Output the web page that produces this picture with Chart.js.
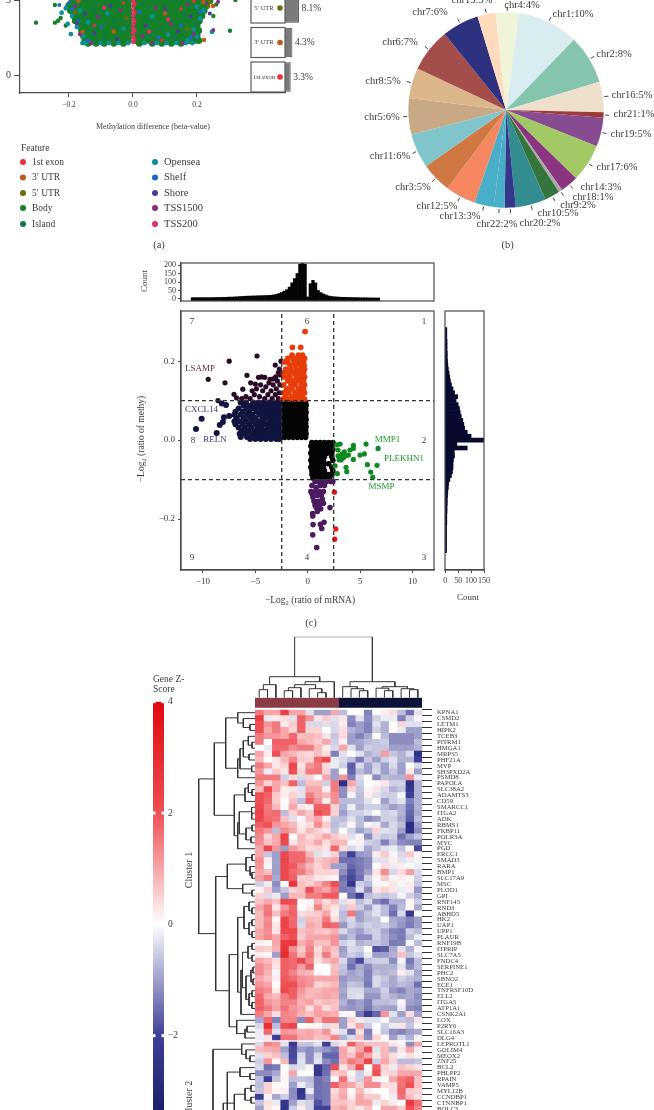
<!DOCTYPE html>
<html>
<head>
<meta charset="utf-8">
<style>
  html, body { margin: 0; background: #fff; }
  #stage { position: relative; width: 654px; height: 1110px; overflow: hidden; }
  #stage canvas { position: absolute; left: -20px; top: -20px; }
</style>
<script src="https://cdn.jsdelivr.net/npm/chart.js@4"></script>
</head>
<body>
<div id="stage"></div>
<script>
// (a) methylation volcano
const featureNames = ['1st exon', '3′ UTR', '5′ UTR', 'Body', 'Island', 'Opensea', 'Shelf', 'Shore', 'TSS1500', 'TSS200'];
const featureColors = ['#e8303a', '#bd5a1a', '#6b6b10', '#14802a', '#0f7a45', '#0c8f96', '#1a68c8', '#4a3a9a', '#8a2d80', '#e0306a'];
const utrNames = ['5′ UTR', '3′ UTR', '1st exon'];
const utrPercent = [8.1, 4.3, 3.3];
const utrColors = ['#6b6b10', '#bd5a1a', '#e8303a'];
const volcanoXTicks = [-0.2, 0, 0.2];
const volcanoYTicks = [0, 5];

// each row is [y, x, x, x ...]
const bodyRows = [
  [4.95, -.19, -.175, -.16, -.145, -.13, -.115, -.1, -.085, -.07, -.055, -.04, -.025, -.012, .012, .027, .042, .057, .072, .087, .102, .117, .132, .147, .162, .177, .192, .207, .222, .24],
  [4.62, -.2, -.185, -.168, -.152, -.137, -.122, -.107, -.092, -.077, -.062, -.047, -.032, -.015, .008, .021, .036, .05, .066, .08, .095, .11, .125, .14, .155, .17, .185, .2, .215, .23],
  [4.3, -.195, -.178, -.163, -.147, -.132, -.117, -.102, -.087, -.072, -.057, -.042, -.027, -.012, .013, .028, .043, .058, .073, .088, .103, .118, .133, .148, .163, .178, .193, .208, .222],
  [3.95, -.185, -.17, -.155, -.14, -.125, -.11, -.095, -.08, -.065, -.05, -.035, -.02, -.008, .008, .022, .037, .052, .067, .082, .097, .112, .127, .142, .157, .172, .187, .202, .215],
  [3.62, -.18, -.165, -.15, -.133, -.118, -.103, -.088, -.073, -.058, -.043, -.028, -.013, .012, .027, .042, .057, .072, .087, .102, .117, .132, .147, .162, .177, .192, .207],
  [3.3, -.165, -.15, -.137, -.122, -.107, -.092, -.077, -.062, -.047, -.032, -.017, -.006, .008, .022, .037, .052, .067, .082, .097, .112, .127, .142, .157, .172, .187, .2],
  [2.96, -.16, -.145, -.13, -.115, -.1, -.085, -.07, -.055, -.04, -.025, -.012, .012, .027, .042, .057, .072, .087, .102, .117, .132, .147, .162, .177, .192, .205],
  [2.63, -.155, -.14, -.125, -.11, -.095, -.08, -.065, -.05, -.035, -.02, -.007, .008, .022, .037, .052, .067, .082, .097, .112, .127, .142, .157, .172, .187, .2],
  [2.3, -.15, -.135, -.12, -.105, -.09, -.075, -.06, -.045, -.03, -.015, .01, .025, .04, .055, .07, .085, .1, .115, .13, .145, .16, .175, .19, .205],
  [2.13, -.14, -.115, -.09, -.06, -.03, .02, .06, .09, .12, .15]
];
const islandPts = [[-.12, 4.4], [-.06, 3.6], [.03, 4.7], [.09, 3.1], [.16, 4], [-.15, 2.9], [.2, 3.4], [-.09, 2.5], [.13, 2.4], [.05, 2.8]];
const openseaPts = [[-.158, 2.13], [-.15, 2.13], [-.13, 2.13], [-.1, 2.13], [-.075, 2.13], [-.045, 2.13], [-.015, 2.13], [.035, 2.13], [.075, 2.13], [.105, 2.13], [.135, 2.13], [.165, 2.13], [.185, 2.13], [-.194, 2.73], [-.204, 3.4], [-.223, 4.15], [-.21, 4.45], [-.19, 3.95], [-.175, 3.2], [-.155, 2.6], [-.14, 3.5], [-.165, 4.3], [.19, 3.05], [.2, 2.55], [.21, 3.75], [.22, 4.3], [.247, 2.87], [.2, 4.55], [.17, 2.3], [-.08, 4.1], [-.03, 3.1], [.06, 3.9], [.11, 2.7]];
const shelfPts = [[-.23, 4.67], [-.2, 4.8], [-.17, 3.6], [.18, 2.5], [-.19, 4.4], [-.14, 2.3], [.21, 4.2], [.15, 3.3], [-.1, 3.2], [.02, 4.2], [.08, 2.5]];
const shorePts = [[-.176, 3.45], [-.15, 4.1], [-.12, 2.8], [-.07, 4.6], [-.05, 2.4], [.04, 3.3], [.1, 4.4], [.14, 2.9], [.18, 3.9], [.23, 4.75], [.24, 4.1]];
const tss1500Pts = [[-.166, 2.71], [-.18, 4.6], [-.11, 3.9], [-.04, 4.3], [.03, 2.6], [.07, 4.5], [.12, 3.4], [.17, 4.7], [.19, 2.7], [.251, 3], [.266, 4.89], [-.13, 2.13], [.06, 2.13], [.155, 2.13]];
const tss200Pts = [[.001, 4.9], [.001, 4.6], [.001, 4.3], [.001, 4], [.001, 3.7], [.001, 3.4], [.001, 3.1], [.001, 2.8], [.001, 2.5], [.001, 2.2], [-.09, 4.5], [.11, 3.7], [.05, 2.9]];
const exonPts = [[.006, 4.75], [.006, 4.15], [.006, 3.55], [.006, 2.95], [.006, 2.35], [-.12, 3.3], [-.03, 4.8], [.09, 2.3], [.15, 4.4], [.19, 4.9]];
const utr3Pts = [[-.157, 2.89], [.25, 4.6], [.222, 2.33], [.22, 4.85], [-.17, 4.95], [.1, 4.1], [-.06, 2.9]];
const utr5Pts = [[.235, 4.6], [-.18, 4.2], [.17, 3.1], [-.02, 3.8], [.24, 4.9]];
const bodyOutliers = [[-.303, 3.49], [.303, 2.95], [.32, 5], [-.244, 3.49], [-.234, 3.62], [-.226, 3.8], [-.244, 4.67], [.251, 3.93], [.26, 4.7], [-.21, 3.3]];

// (b) chromosome pie
const chrNames = ['chr1:10%', 'chr2:8%', 'chr16:5%', 'chr21:1%', 'chr19:5%', 'chr17:6%', 'chr14:3%', 'chr18:1%', 'chr9:2%', 'chr10:5%', 'chr20:2%', 'chr22:2%', 'chr13:3%', 'chr12:5%', 'chr3:5%', 'chr11:6%', 'chr5:6%', 'chr8:5%', 'chr6:7%', 'chr7:6%', 'chr15:3%', 'chr4:4%'];
const chrValues = [10.1, 8.1, 5, 0.9, 4.8, 6.2, 3, 0.6, 2.5, 5, 1.8, 1.8, 3.2, 5, 5, 5.7, 6, 5, 7.2, 6.1, 3, 3.8];
const chrColors = ['#d9ecef', '#85c5ad', '#efdfcd', '#a03a38', '#864c8f', '#a3c966', '#8b3580', '#aaaaaa', '#35743a', '#328c90', '#35378a', '#49afc9', '#49afc9', '#f58860', '#cf7843', '#80c5cc', '#c9a885', '#dbb68a', '#a34e4b', '#2e3180', '#ffdbbd', '#f0f4d8'];
const chrLabelSpots = [[573, 14], [614, 54], [632, 95], [634, 114], [631, 134], [617, 167], [601, 187], [593, 197], [578, 205], [558, 213], [540, 223], [497, 224], [460, 216], [437, 206], [413, 187], [390, 156], [382, 117], [383, 81], [400, 42], [430, 12], [472, 0], [522, 5]];

// (c) mRNA against methylation
const nineTicksX = [-10, -5, 0, 5, 10];
const nineTicksY = [-0.2, 0, 0.2];
const cutsX = [-2.48, 2.48];
const cutsY = [-0.1, 0.1];
const blackUpperRows = [
  [.1, -2.3, -1.9, -1.2, -.9, -.4],
  [.095, -2.5, -2.1, -1.7, -1.4, -1, -.6, -.2],
  [.088, -2.4, -2, -1.6, -1.2, -.8, -.4, -.15],
  [.079, -2.55, -2.2, -1.8, -1.4, -1, -.6, -.2],
  [.07, -2.4, -2, -1.6, -1.2, -.8, -.4, -.15],
  [.061, -2.55, -2.2, -1.8, -1.4, -1, -.6, -.2],
  [.052, -2.4, -2, -1.6, -1.2, -.8, -.4, -.15],
  [.043, -2.55, -2.2, -1.8, -1.4, -1, -.6, -.2],
  [.034, -2.4, -2, -1.6, -1.2, -.8, -.4, -.15],
  [.025, -2.55, -2.2, -1.8, -1.4, -1, -.6, -.2],
  [.016, -2.4, -2, -1.6, -1.2, -.8, -.4, -.15],
  [.007, -2.55, -2.2, -1.8, -1.4, -1, -.6, -.2]
];
const blackLowerRows = [
  [-.006, .4, .8, 1.2, 1.6, 2, 2.4],
  [-.015, .3, .7, 1.1, 1.5, 1.9, 2.3],
  [-.024, .4, .8, 1.2, 1.6, 2, 2.4],
  [-.033, .3, .7, 1.1, 1.5, 1.85, 2.3],
  [-.042, .4, .8, 1.2, 1.6, 2.3],
  [-.051, .3, .7, 1.1, 1.5, 2.4],
  [-.06, .4, .8, 1.2, 1.6, 2],
  [-.069, .3, .7, 1.1, 1.5, 2.3],
  [-.078, .4, .8, 1.2, 1.6, 2.4],
  [-.087, .4, .8, 1.2, 1.6, 2, 2.3],
  [-.096, .5, .9, 1.3, 1.7, 2.1]
];
const orangeRows = [
  [.275, -.25],
  [.235, -1.46, -.67],
  [.215, -1.5, -.9, -.5],
  [.207, -1.9, -1.4, -1, -.55, -.3],
  [.198, -2.2, -1.9, -1.3, -.8, -.4],
  [.19, -1.7, -1.2, -.7, -.35],
  [.18, -2.1, -1.6, -1.1, -.6, -.3],
  [.17, -2.3, -1.8, -1.3, -.9, -.4],
  [.16, -2.2, -1.7, -1.1, -.6, -.3],
  [.15, -1.9, -1.4, -.9, -.4],
  [.14, -2.3, -1.6, -1.2, -.6, -.3],
  [.13, -2, -1.5, -.9, -.4],
  [.12, -2.3, -1.8, -1.2, -.7, -.3],
  [.11, -2.1, -1.5, -1, -.5],
  [.104, -2.4, -1.8, -1.3, -.8, -.3]
];
const navyRows = [
  [.095, -6.4, -5.9, -5.2, -4.7, -4.2, -3.7, -3.2, -2.8],
  [.087, -6.1, -5.5, -5, -4.5, -4, -3.5, -3, -2.7],
  [.08, -6.6, -5.8, -5.2, -4.8, -4.3, -3.8, -3.3, -2.9],
  [.072, -6.9, -6.2, -5.6, -4.9, -4.4, -4, -3.5, -3.1, -2.7],
  [.064, -7, -6.4, -5.8, -5.3, -4.6, -4.1, -3.6, -3.2, -2.8],
  [.056, -6.8, -6.1, -5.5, -5, -4.3, -3.8, -3.4, -3, -2.7],
  [.048, -7, -6.5, -5.9, -5.3, -4.7, -4.2, -3.6, -3.2, -2.8],
  [.04, -6.9, -6.2, -5.6, -5, -4.5, -4, -3.5, -3, -2.7],
  [.032, -6.6, -6, -5.4, -4.8, -4.4, -3.8, -3.3, -2.9],
  [.024, -6.3, -5.7, -5.1, -4.6, -4.1, -3.6, -3.1, -2.7],
  [.016, -6.5, -6, -5.4, -4.9, -4.4, -3.9, -3.4, -2.9],
  [.008, -6.4, -5.8, -5.2, -4.7, -4.2, -3.7, -3.2, -2.8],
  [.003, -5.5, -5, -4.5, -4, -3.5, -3, -2.7],
  [.093, -8.2], [.089, -7.8], [.061, -7.5], [.058, -8], [.054, -10.13], [.046, -8.1], [.038, -8.4], [.028, -10.67], [.018, -8.69]
];
const maroonPts = [[-9.5, .154], [-7.5, .2], [-7.9, .145], [-4.84, .213], [-8.57, .1], [-7.04, .116], [-6.8, .107], [-6.2, .129], [-5.8, .164], [-5.45, .145], [-5, .142], [-3.1, .19], [-2.55, .2], [-4.7, .159], [-4.4, .16], [-4.1, .159], [-3.6, .154], [-3.05, .16], [-2.8, .171], [-6.3, .105], [-5.9, .11], [-5.5, .105], [-5.1, .115], [-5.3, .125], [-4.9, .13], [-4.6, .11], [-4.3, .125], [-4.5, .14], [-4.1, .105], [-4, .135], [-3.8, .115], [-3.7, .145], [-3.4, .105], [-3.5, .125], [-3.3, .14], [-3.1, .115], [-3, .13], [-2.9, .15], [-2.8, .105], [-2.7, .12], [-2.65, .14], [-2.6, .165], [-2.7, .18], [-3.3, .155]];
const greenPts = [[3.09, -.01], [2.77, -.012], [4.36, -.013], [4.36, -.021], [5.57, -.01], [6.72, -.021], [4.04, -.025], [3.89, -.038], [5, -.038], [5.41, -.035], [4.36, -.049], [5.7, -.062], [6.62, -.064], [3.66, -.069], [3.73, -.08], [6.02, -.081], [6.21, -.094], [2.83, -.085], [2.61, -.065], [3.1, -.04], [3.3, -.035], [3.5, -.03], [3.2, -.05], [3.4, -.045], [3, -.05], [3.6, -.04], [2.9, -.04], [2.9, -.025]];
const purplePts = [[.86, -.272], [.48, -.24], [.51, -.214], [1.21, -.213], [1.56, -.208], [1.34, -.224], [2.13, -.171], [1.24, -.174], [.92, -.181], [.48, -.186], [.48, -.192], [.4, -.135], [.7, -.105], [1, -.105], [1.4, -.105], [1.8, -.105], [2.2, -.105], [.4, -.115], [.8, -.12], [1.2, -.115], [1.6, -.115], [2.4, -.105], [.3, -.13], [.7, -.13], [1.1, -.13], [1.5, -.13], [.5, -.145], [.9, -.14], [1.3, -.14], [.6, -.155], [1, -.155], [1.4, -.15], [.7, -.165], [1.1, -.165], [1.5, -.16], [.8, -.17]];
const redPts = [[2.55, -.132], [2.68, -.225], [2.58, -.251]];

const mrnaBinStart = -11, mrnaBinWidth = 0.25;
const mrnaCounts = [8, 8, 8, 8, 8, 8, 8, 8, 8, 9, 9, 9, 10, 10, 11, 11, 12, 13, 14, 15, 16, 17, 17, 18, 18, 19, 19, 20, 20, 21, 22, 24, 27, 32, 38, 46, 55, 70, 95, 120, 150, 205, 212, 205, 12, 90, 110, 95, 50, 38, 30, 24, 18, 15, 13, 12, 11, 10, 10, 9, 9, 8, 8, 8, 7, 7, 7, 7, 6, 6, 6, 6];
const mrnaCountTicks = [0, 50, 100, 150, 200];
const methyBinStart = 0.28, methyBinWidth = 0.01;
const methyCounts = [6, 6, 6, 7, 7, 7, 8, 8, 9, 10, 12, 15, 17, 20, 24, 30, 36, 48, 42, 50, 55, 58, 62, 68, 72, 75, 85, 100, 155, 45, 85, 35, 36, 32, 30, 30, 28, 24, 18, 13, 12, 10, 9, 8, 8, 7, 7, 6, 6, 6, 5, 5, 5, 5, 5, 5, 5];
const methyCountTicks = [0, 50, 100, 150];

// (d) heatmap
const genes = ['KPNA1', 'CSMD2', 'LETM1', 'HIPK2', 'TCEB3', 'PITRM1', 'HMGA1', 'MRPS5', 'PHF21A', 'MVP', 'SH3PXD2A', 'PSMD8', 'PAPOLA', 'SLC38A2', 'ADAMTS3', 'CD59', 'SMARCC1', 'ITGA2', 'ADK', 'RBMS1', 'FKBP11', 'POLR3A', 'MYC', 'PGD', 'ERCC1', 'SMAD3', 'RARA', 'BMP1', 'SLC17A9', 'MSC', 'PLOD1', 'GPI', 'RNF145', 'RND3', 'ABHD5', 'HK2', 'UAP1', 'UPP1', 'PLAUR', 'RNF19B', 'ITPRIP', 'SLC7A5', 'FNDC4', 'SERPINE1', 'PHC2', 'SBNO2', 'ECE1', 'TNFRSF10D', 'ELL2', 'ITGA5', 'ATP1A1', 'CSNK2A1', 'LOX', 'P2RY6', 'SLC16A3', 'DLG4', 'LEPROTL1', 'GOLIM4', 'MEOX2', 'ZNF25', 'BCL2', 'PHLPP2', 'RPAIN', 'VAMP5', 'MYL12B', 'CCNDBP1', 'CTNNBP1', 'BOLC3'];
const heatRows = [
  [1.5, 1, 1, 2.5, 1, 1, -.3, -1, -1, 1, -.7, 0, 0, -1.3, 0, .2, .4, -.7, -1.5, -.3],
  [2.5, -.2, .2, .4, -.3, 1.8, 1.2, .3, .6, -.3, .3, -1.2, -.3, -1.2, -.5, -.2, -.2, -1.3, -.5, .1],
  [2, 1.2, 1.5, .2, .6, 1.8, -.4, -.4, -.3, -.4, .2, -1.3, -1, -1.3, -.3, -.8, 0, .5, -.3, -.3],
  [2, 1, 1.5, 1, .5, 1.8, .5, .5, 0, -.4, .4, -.8, -1, -1.3, -.5, -.8, .1, -.2, -1, -1],
  [1.5, 1.2, 1.2, 1, 1.7, .7, .8, .7, .3, -.6, .4, -1, -1.3, -.9, 0, -.7, -1.2, -1.2, -1.2, -1],
  [1.5, 0, 1.8, 1.8, 1.8, 1, .8, .6, 1, -.5, .2, -1, -.9, -.7, -.6, -.5, -1.2, -1.2, -1.2, -.7],
  [0, -.2, 1.7, 1.7, 1.3, 1.5, 1.5, .8, .2, -.4, 1, -.3, -1, -.5, -.6, -.6, -1, -1, -1, -.8],
  [1, .2, 2, 1, .8, .5, .4, .7, .4, -1.3, -.3, 0, -.3, -.8, -.6, 1.1, -.6, -.8, -.4, -2.5],
  [.8, 0, .3, .8, 1.4, .6, .5, 1.7, 2.2, -.2, -.4, -.7, -1.4, -.6, -1, -.5, -.3, -.8, -.8, -2],
  [1.5, 1, .3, .5, 2.2, .3, 1.2, 1.5, .4, -.2, -.5, -1.7, -.4, -1, -.5, -1, -.4, -1, 0, -.4],
  [1.2, -.2, .6, .3, 2, .5, 1.5, 1.6, .5, -1, 0, -1.6, -.7, -1, -.4, -1, -.6, -1, .3, -1],
  [1.5, 1.5, 1.5, -.5, .4, -.4, .5, 0, 1, -1, 1.2, -1.3, -.4, 0, -1.2, -.7, -.8, -.8, 1.2, -.2],
  [1.2, .5, 1, .7, 1.8, -.7, .7, .7, -.5, 1.5, -2.6, 1, -.5, 0, .1, .3, -.5, -.5, -2.5, -.8],
  [.8, 2.2, 1, .2, .3, -.3, 1, 1, .2, 1.5, -1.2, .5, -.6, -.1, .3, -.4, -.8, -.6, -2.3, -.8],
  [2, 1.8, .6, .2, .5, -.3, 1.5, 1, .8, 1.3, -1.2, -.1, -.7, .2, -.3, -.5, -.5, -.1, -2, -.8],
  [2, 1.7, .6, 0, .7, -.7, 1.8, 1.2, .2, 1.3, -.7, -.7, -.7, -.3, .1, -1, -.5, -.3, -1.3, -.8],
  [2.2, 1.5, .8, .1, 1, .3, .2, 1.8, 1.8, .5, -.8, -.2, -.8, -.5, -.5, -.7, -1, -.8, -1.5, -.8],
  [2.3, 1.6, 1.7, -.7, .5, 1, .6, 2, 1.8, .5, -1, -.5, -.5, -.3, 0, -.5, -.4, -.8, -1.6, -.9],
  [2.2, 1.7, 1.6, .7, -.3, -.1, .7, 1, .2, -.6, -.7, -.3, -.7, -1.2, -1, -.5, -.5, -.9, -1.7, -.7],
  [1.8, 2, 1.2, 1, .8, .2, .4, 1.3, .6, -.7, -.5, .1, -.7, -.1, -.2, -.9, -.4, -.7, -2.7, -1],
  [1.5, 1.2, -.7, 1.3, 1, .3, .8, .5, .3, -.6, 0, -.5, -1, -.7, .5, -.3, -.4, -1, -2.6, -1.2],
  [1.4, .5, 1, 2.3, 0, .8, .4, .6, 1, .6, .4, -.3, -.1, -1.2, -.4, -.6, -.5, -1.5, -1, -.6],
  [1.3, .7, 1, 2.2, .3, .7, .6, 1, .4, .8, .8, -.1, .2, -.5, -.6, -1.3, -.7, -1.2, -1.3, -1.3],
  [1, 2.3, 1.2, -1, 1.2, .8, .4, .5, .3, 1.7, .4, -.4, -.2, -.9, -.6, -.3, -.2, -.6, 0, -1.9],
  [1, -.6, -1, 2.2, 1.7, 1.7, .8, -.3, -.2, .5, -1.2, -2, -1.1, -1, .2, .6, .1, -.4, .6, .1],
  [1.3, .2, -1, 2.3, 1.7, 1.7, 1.2, .6, .8, 1, -1.5, -1.5, -1.4, -1.2, -.3, -.3, .2, -.3, -.2, -.1],
  [1.2, -.1, -1, 2.2, 1.9, 1.3, .8, .5, .8, -1, -1, -1.6, -1.4, -1.2, 0, .4, -.2, .2, 0, -.2],
  [1, .7, -1, 2.2, 1.7, 1.5, 1, .5, .5, .5, -1.2, -1.8, -1.4, -1, .3, 1.3, -.4, .4, 1.1, -.4],
  [1.1, 1.5, -.9, 2.2, 1.8, .5, .6, .3, .2, .1, -1.5, -1.9, -1.5, -.5, .1, .6, -.1, .2, .1, -.5],
  [-.5, -.2, -1.2, 0, 2.7, .7, .5, .9, 1.4, 2, -1.3, -2.4, -.5, -.7, -.1, .1, .3, -.1, .2, -.6],
  [.1, .6, -1, -.6, .5, .7, 2, 1.3, 1, 1.6, -1.4, -1.3, -.3, -1.2, .3, .5, .3, -.2, .2, -1.1],
  [.5, -.4, -.2, -1, .8, .8, 1.5, 1.5, 1.9, 1.9, 0, -1.5, -2.1, -.7, -.5, -.6, -.5, -.1, -.5, -.8],
  [.7, 1, .7, 2.2, 2, .1, -.1, .9, .4, .8, -.3, .3, -.7, -.4, -1.2, -1.5, -.8, -.8, .1, -.5],
  [1, 1.5, .3, 1.2, 1.7, 0, .2, 1.4, .6, .3, -.5, .6, -.5, -1, -.3, -.7, -1.3, -.7, .1, -.9],
  [.8, 1.6, .7, 1.5, 1.8, .4, .5, .6, 1, .2, -.7, 1.5, -1, -.6, -.3, -.7, -1.5, -.4, -2.2, 0],
  [.8, 1.3, .1, 2.3, 1.7, -.5, .8, .7, 1.5, .4, -.7, -.4, -1, -.7, -.6, 0, -.9, -1, -1.3, -1],
  [.8, 1.4, .3, 2.4, 1.7, -.4, 1, .8, 1.8, 1.7, -1.1, -.5, -.7, -.5, -.6, -.5, -.8, -1.1, -1.4, -1],
  [1, 1.3, .3, 2.2, 2.2, .7, .9, .7, .6, .9, -.4, -.8, -1, -.6, -.5, -.9, -1.3, -1.4, -.5, -.7],
  [1, 1.4, 1, 1.8, 2, .6, 1, 1, 1, 1.2, -1, -.7, -1.2, -1.2, -.5, -.8, -1.2, -1.4, -.7, -.2],
  [.2, .1, 1, 2.6, 2.7, .9, 1.2, .7, .7, 1.2, -.5, -.3, -.8, -.7, -.6, -.8, -1.4, -1.3, -.1, -.7],
  [.6, .5, .9, 2.8, 1.3, .6, 1.4, .4, 1, .7, -1, -.4, -.5, 0, -1.8, -1.7, -.9, -.3, -.8, -.1],
  [.2, .1, -1, 3, 1.6, .8, 1.6, .5, 1.5, .6, -.9, -.5, -.7, -.2, -1, -1, -.8, .7, -.6, -.3],
  [1, .8, .4, 1.8, 1.7, 2.2, 1.4, .3, .8, 1, -.4, -1.3, -1.9, -.6, -.5, -.5, -1.2, -.1, -1.4, -.7],
  [1.3, 1, .3, 1.8, 1.7, 1.1, 1.8, 0, 0, .7, -.6, -1.5, -.9, -1.2, -.8, -.8, -.8, -.3, -1.2, -.7],
  [1.3, .9, -.1, 1.8, 1.4, .9, .8, .1, 0, .8, -.7, -1, -.8, -1.3, -.7, -.8, -.7, .2, -.3, -.9],
  [1, .7, .2, 1.9, 1.7, 1.3, 1.2, 1, 1, 1, -1.1, -.9, -.9, -1.3, -.4, -.6, -.9, -.5, -.7, -.8],
  [1.2, 1, 0, 2, 2, 1.4, 1.2, .5, .6, .8, -1, -.6, -.7, -1.4, -.4, -.7, -.9, -.7, -.8, -1.5],
  [1.5, 1.3, .2, 2.2, 1.8, 1.2, .8, .8, 1, 1, -.9, -.4, -.4, -.9, -.9, -.5, -1.1, -1.3, -.9, -1],
  [1.7, 1, .8, 1.5, 1.8, 1, .8, .9, 1, .9, -1, -.4, -.3, -1.1, -1.1, -.6, -.8, -1, -.9, -1.2],
  [1.8, 1.2, 1, 1.4, 1.4, .9, 1.1, .6, .8, .7, -.8, -1.2, -1, -1.3, -.7, -.7, -.6, .1, -1, -1.1],
  [1.8, 1.5, 1.1, 1.6, 1.2, 1, .4, 1, .4, .7, -1, -1.1, -1, -1.4, -.9, -1, -1, -.2, -1.2, -1.3],
  [1.5, 1, .4, 1.4, 1.3, .9, .7, 1.1, 1, .9, .1, .1, -1.4, -2.2, -1.6, 1.2, -.3, -1, .4, -1],
  [-.9, 1.7, -1.3, 1.4, 1.4, -1.2, 1.8, .8, 1.6, 1.6, -1, .5, -.2, -.3, -.3, .1, -.6, -.6, -.7, .3],
  [-.4, 2.9, -.7, 2, 2.3, 0, .1, .1, -.3, .4, -1, .3, 1, -.5, 0, -.5, -.2, .3, -.6, .1],
  [-.2, 1.7, -.3, 1.2, 1.1, .9, 1, .8, 1.2, .3, -.3, -1.5, .4, -1.3, .1, -.6, -1.2, -1.3, -1, -.9],
  [-.2, .3, -2, 1.6, 1.6, 1, 1, .7, .8, 1.4, -.8, -.4, .7, -1.2, .5, .1, -1, -.4, -.8, -.1],
  [-.4, 1.4, 1.2, -.3, -2.2, -.6, -.6, -.3, -2, -.4, .3, 1.8, 1, .7, .7, .7, .3, -.1, -1.2, 1],
  [.8, .9, 1, -1, -1.9, -1, -1.2, -.9, -1.1, -1.4, 1, .4, 1, 2, -.3, .8, -.8, .3, 1, .2],
  [-.3, .5, .7, -.7, -1.9, -.4, -1.2, -.4, -1.6, -1.6, 1, .7, 1.5, 1, .3, .8, .4, -.1, .4, -.1],
  [-.5, 1.2, .1, .8, -1.8, -.3, -1.2, -.3, -1.2, -1.5, .9, 1.5, 1.2, 2.4, -.5, 1, .5, -.7, -.7, -.6],
  [-.4, -1.5, -1.4, 0, -.4, -.3, -.1, -2.2, -1.6, 2, .3, .9, 2, 0, 1.8, .5, -.2, .7, .5, .3],
  [-1.2, -1.2, -.9, .1, 1, 0, 0, -2.3, -1.5, .6, .7, -.1, -.5, .2, 2, .4, .5, 1, 1, 1],
  [-.6, -2.1, -.6, .1, -.7, -.6, -.7, -1.5, -1.3, .1, 1.6, .3, -.5, 1.2, .2, 0, 1, 1.6, 1.8, .7],
  [-.7, .5, .1, .1, -1, -.2, -.6, -1.5, -1.4, 1.8, 1.2, 1, .5, 1.3, 1.3, .4, .4, 1.6, 2, .7],
  [-.6, .5, .1, .2, -1.2, -2.5, -.2, -1.5, -1.4, .4, .9, .1, .8, .2, 0, 0, .4, 1.7, .6, .5],
  [-2, -.1, -.9, -.5, -1.2, -2.3, -.9, -1.5, -1.4, .6, 1, .2, 1, .6, .6, 0, -.2, 1.6, .7, .4],
  [-.6, .4, -.2, -2.3, -1, -.3, -.5, -1.8, -1.4, .7, .7, .5, 1, 1, -.2, .5, .2, 0, 2.6, 1.6],
  [-1, .3, .1, -2.5, -.5, .2, -.5, -2, -2, .8, 1, .5, .3, .7, 0, 1, 1, .6, 2, 1.4]
];
const groupSizes = [10, 10];
const groupColors = ['#8a3c46', '#0c1238'];
const zTicks = [-2, 0, 2, 4];
const zStops = [[-3.5, '#161a66'], [-2, '#3f3f97'], [0, '#ffffff'], [2, '#ee4f55'], [4, '#e0080f']];

// dendrogram merges: [from, to, height, height of from, height of to]
const columnTree = [
  [0, 1, 8, 0, 0], [.5, 2, 13, 8, 0], [3, 4, 7, 0, 0], [3.5, 5, 10, 7, 0], [7, 8, 5, 0, 0], [6, 7.5, 9, 0, 5], [4.25, 6.75, 13, 10, 9], [5.5, 9, 16, 13, 0], [1.25, 7.25, 21, 13, 16],
  [12, 13, 7, 0, 0], [11, 12.5, 9, 0, 7], [10, 11.75, 11, 0, 9], [15, 16, 7, 0, 0], [14, 15.5, 9.5, 0, 7], [18, 19, 8, 0, 0], [17, 18.5, 9, 0, 8], [14.75, 17.75, 11, 9.5, 9], [10.875, 16.25, 16, 11, 11],
  [4.25, 13.56, 61, 21, 16]
];
const rowTree = [
  [2, 3, 5, 0, 0], [1, 2.5, 11.7, 0, 5], [0, 1.75, 17.3, 0, 11.7],
  [5, 6, 3, 0, 0], [4, 5.5, 6.7, 0, 3], [7, 8, 6, 0, 0], [4.75, 7.5, 11.7, 6.7, 6], [9, 10, 3.3, 0, 0], [6.1, 9.5, 15, 11.7, 3.3], [7.8, 11, 17.3, 15, 0],
  [.875, 9.4, 29.3, 17.3, 17.3],
  [13, 14, 3, 0, 0], [12, 13.5, 6.7, 0, 3], [12.75, 15, 10, 6.7, 0],
  [17, 18, 3.3, 0, 0], [16, 17.5, 3.5, 0, 3.3], [19, 20, 3, 0, 0], [21, 22, 4, 0, 0], [19.5, 21.5, 9, 3, 4], [16.75, 20.5, 15.7, 3.5, 9], [18.6, 23, 17.3, 15.7, 0],
  [13.9, 20.8, 20.7, 10, 17.3], [5.1, 17.35, 40.7, 29.3, 20.7],
  [24, 25, 3, 0, 0], [27, 28, 3, 0, 0], [26, 27.5, 5, 0, 3], [24.5, 26.75, 9, 3, 5], [30, 31, 3, 0, 0], [29, 30.5, 12.3, 0, 3], [25.6, 29.75, 27.7, 9, 12.3],
  [33, 34, 3, 0, 0], [32, 33.5, 6, 0, 3], [35, 36, 3, 0, 0], [37, 38, 3, 0, 0], [35.5, 37.5, 6, 3, 3], [32.75, 36.5, 11, 6, 6],
  [39, 40, 3, 0, 0], [41, 42, 3, 0, 0], [39.5, 41.5, 7, 3, 3], [43, 44, 2, 0, 0], [45, 46, 2, 0, 0], [43.5, 45.5, 4, 2, 2], [47, 48, 3, 0, 0], [49, 50, 3, 0, 0], [47.5, 49.5, 6, 3, 3], [44.5, 48.5, 9, 4, 6], [40.5, 46.5, 12.5, 7, 9], [43.5, 51, 14, 12.5, 0],
  [34.6, 47.25, 17.3, 11, 14],
  [53, 54, 8, 0, 0], [53.5, 55, 10, 8, 0], [52, 54.25, 18.3, 0, 10], [40.9, 53.1, 25.7, 17.3, 18.3], [27.7, 47, 39.3, 27.7, 25.7], [11.2, 37.35, 56.3, 40.7, 39.3],
  [58, 59, 5, 0, 0], [57, 58.5, 9, 0, 5], [56, 57.75, 13.3, 0, 9],
  [61, 62, 5, 0, 0], [60, 61.5, 15, 0, 5], [63, 64, 4, 0, 0], [65, 66, 4, 0, 0], [63.5, 65.5, 10, 4, 4], [64.5, 72, 20.7, 10, 10], [60.75, 70, 27.7, 15, 20], [66, 85, 31.7, 20.7, 20], [56.9, 80, 42, 13.3, 30]
];

// ---- drawing helpers ----
const W = 694, H = 1150, OFF = 20;
const SERIF = '"Liberation Serif", serif';
const INK = '#3a3a3a', AXIS = '#4a4a4a';
Chart.defaults.animation = false;
Chart.defaults.responsive = false;
Chart.defaults.events = [];
Chart.defaults.font.family = SERIF;
Chart.defaults.color = INK;
Chart.defaults.plugins.legend.display = false;
Chart.defaults.plugins.tooltip.enabled = false;

const stage = document.getElementById('stage');
function addChart(config) {
  const c = document.createElement('canvas');
  c.width = W; c.height = H;
  stage.appendChild(c);
  return new Chart(c, config);
}
// plot area in page pixels, every canvas covers the whole page
function pad(x1, y1, x2, y2, l = 0, r = 0, b = 0) {
  return { left: x1 + OFF - l, top: y1 + OFF, right: W - x2 - OFF - r, bottom: H - y2 - OFF - b };
}
function fromRows(rows) {
  return rows.flatMap(([y, ...xs]) => xs.map(x => ({ x, y })));
}
function fromPairs(pairs) {
  return pairs.map(([x, y]) => ({ x, y }));
}
function treeLines(merges, rowsAreX) {
  const out = [];
  const add = (a, h) => out.push(rowsAreX ? { x: a, y: h } : { x: h, y: a });
  merges.forEach(([a, b, h, ha, hb]) => {
    add(a, ha); add(a, h); add(b, h); add(b, hb);
    out.push({ x: NaN, y: NaN });
  });
  return out;
}
function minus(v) { return String(v).replace('-', '−'); }
function axis(min, max, ticks, fmt, size, tick, gap, fit) {
  return {
    type: 'linear', min, max, offset: false,
    afterBuildTicks: s => { s.ticks = ticks.map(value => ({ value })); },
    afterFit: fit,
    grid: { drawOnChartArea: false, tickLength: tick, color: AXIS, tickWidth: 1, offset: false },
    border: { color: AXIS, width: 1.2 },
    ticks: { font: { size }, color: INK, padding: gap, maxRotation: 0, autoSkip: false, callback: fmt }
  };
}
function hidden(min, max, extra) {
  return Object.assign({ type: 'linear', display: false, offset: false, min, max }, extra);
}
function notes(list, framed) {
  return {
    id: 'notes',
    afterDraw(chart) {
      const ctx = chart.ctx;
      if (framed) {
        const a = chart.chartArea;
        ctx.save(); ctx.strokeStyle = AXIS; ctx.lineWidth = 1.2;
        ctx.strokeRect(a.left, a.top, a.width, a.height); ctx.restore();
      }
      list.forEach(n => {
        ctx.save();
        ctx.translate(n.x + OFF, n.y + OFF);
        if (n.dot) {
          ctx.fillStyle = n.color;
          ctx.beginPath(); ctx.arc(0, 0, n.dot, 0, Math.PI * 2); ctx.fill();
        } else {
          if (n.rot) ctx.rotate(n.rot * Math.PI / 180);
          ctx.font = (n.size || 9) + 'px ' + SERIF;
          ctx.fillStyle = n.color || INK;
          ctx.textAlign = n.align || 'center';
          ctx.textBaseline = 'middle';
          ctx.fillText(n.t, 0, 0);
        }
        ctx.restore();
      });
    }
  };
}
function dot(pts, color, r) {
  return { data: pts, backgroundColor: color, borderWidth: 0, pointRadius: r, pointHoverRadius: r, clip: false };
}
function zColor(z) {
  const rgb = h => [1, 3, 5].map(i => parseInt(h.slice(i, i + 2), 16));
  const v = Math.max(-3.5, Math.min(4, z));
  for (let i = 1; i < zStops.length; i++) {
    if (v <= zStops[i][0]) {
      const [z0, c0] = zStops[i - 1], [z1, c1] = zStops[i];
      const t = (v - z0) / (z1 - z0), a = rgb(c0), b = rgb(c1);
      return 'rgb(' + a.map((q, k) => Math.round(q + (b[k] - q) * t)).join(',') + ')';
    }
  }
  return zStops[zStops.length - 1][1];
}

// ---- (a) scatter ----
const featureNotes = [{ t: 'Feature', x: 21, y: 148, size: 9.5, align: 'left' }, { t: '(a)', x: 159, y: 245, size: 10.5 }, { t: 'Methylation difference (beta-value)', x: 153, y: 127, size: 8 }];
const legendYs = [162, 177.5, 193, 208, 224];
featureNames.forEach((t, i) => {
  const second = i > 4;
  featureNotes.push({ t, x: second ? 164 : 32, y: legendYs[i % 5], size: second ? 10.5 : 9.5, align: 'left' });
  featureNotes.push({ dot: 3, x: second ? 155 : 23, y: legendYs[i % 5], color: featureColors[i] });
});
addChart({
  type: 'scatter',
  data: {
    datasets: [
      dot(fromPairs(exonPts), featureColors[0], 1.7),
      dot(fromPairs(tss200Pts), featureColors[9], 2.2),
      dot(fromPairs(utr3Pts), featureColors[1], 2.2),
      dot(fromPairs(utr5Pts), featureColors[2], 2.2),
      dot(fromPairs(tss1500Pts), featureColors[8], 2),
      dot(fromPairs(shorePts), featureColors[7], 2),
      dot(fromPairs(shelfPts), featureColors[6], 2),
      dot(fromPairs(openseaPts), featureColors[5], 2.4),
      dot(fromPairs(islandPts), featureColors[4], 2.4),
      dot(fromPairs(bodyOutliers), featureColors[3], 2.2),
      dot(fromRows(bodyRows), featureColors[3], 3.6)
    ]
  },
  options: {
    layout: { padding: pad(20, 0, 285, 93, 20, 0, 14) },
    scales: {
      x: axis(-0.353, 0.475, volcanoXTicks, v => v.toFixed(1).replace('-', '−'), 7.5, 4, 4, s => { s.height = 14; }),
      y: axis(-1.2, 5, volcanoYTicks, minus, 10, 6, 3, s => { s.width = 20; })
    }
  },
  plugins: [notes(featureNotes)]
});

// bars and boxes to the right of the scatter
addChart({
  type: 'bar',
  data: {
    labels: utrNames,
    datasets: [{ data: utrPercent, backgroundColor: '#7a7a7a', borderColor: '#4a4a4a', borderWidth: 1, barPercentage: 1, categoryPercentage: 0.86 }]
  },
  options: {
    indexAxis: 'y',
    layout: { padding: pad(285, -9.25, 330, 94.25) },
    scales: {
      x: hidden(0, 26.16),
      y: { display: false }
    }
  },
  plugins: [{
    id: 'utrBoxes',
    afterDatasetsDraw(chart) {
      const ctx = chart.ctx;
      chart.getDatasetMeta(0).data.forEach((bar, i) => {
        const top = bar.y - 15;
        ctx.save();
        ctx.fillStyle = '#fff'; ctx.strokeStyle = '#5a5a5a'; ctx.lineWidth = 1.2;
        ctx.fillRect(251 + OFF, top, 34, 30); ctx.strokeRect(251 + OFF, top, 34, 30);
        ctx.fillStyle = utrColors[i];
        ctx.beginPath(); ctx.arc(280 + OFF, bar.y, 2.8, 0, Math.PI * 2); ctx.fill();
        ctx.fillStyle = INK; ctx.textBaseline = 'middle'; ctx.textAlign = 'center';
        ctx.font = '6.5px ' + SERIF;
        ctx.fillText(utrNames[i], 264 + OFF, bar.y);
        ctx.textAlign = 'left'; ctx.font = '9.5px ' + SERIF;
        ctx.fillText(utrPercent[i] + '%', bar.x + 2.5, bar.y);
        ctx.restore();
      });
    }
  }]
});

// ---- (b) pie ----
addChart({
  type: 'pie',
  data: { labels: chrNames, datasets: [{ data: chrValues, backgroundColor: chrColors, borderWidth: 0 }] },
  options: { rotation: 7.6, layout: { padding: pad(408.3, 12.3, 603.7, 207.7) } },
  plugins: [{
    id: 'pieLabels',
    afterDraw(chart) {
      const ctx = chart.ctx;
      ctx.save();
      ctx.strokeStyle = '#444'; ctx.lineWidth = 1;
      ctx.fillStyle = INK; ctx.font = '10.5px ' + SERIF;
      ctx.textAlign = 'center'; ctx.textBaseline = 'middle';
      chart.getDatasetMeta(0).data.forEach((arc, i) => {
        const a = (arc.startAngle + arc.endAngle) / 2, r = arc.outerRadius;
        ctx.beginPath();
        ctx.moveTo(arc.x + Math.cos(a) * (r + 1.5), arc.y + Math.sin(a) * (r + 1.5));
        ctx.lineTo(arc.x + Math.cos(a) * (r + 5.5), arc.y + Math.sin(a) * (r + 5.5));
        ctx.stroke();
        ctx.fillText(chrNames[i], chrLabelSpots[i][0] + OFF, chrLabelSpots[i][1] + OFF);
      });
      ctx.font = '10.5px ' + SERIF;
      ctx.fillText('(b)', 507.7 + OFF, 245 + OFF);
      ctx.restore();
    }
  }]
});

// ---- (c) nine quadrant scatter ----
const nineNotes = [
  { t: '7', x: 192, y: 322 }, { t: '6', x: 307, y: 322 }, { t: '1', x: 424, y: 322 },
  { t: '8', x: 193, y: 441 }, { t: '2', x: 424, y: 440.5 },
  { t: '9', x: 192, y: 558 }, { t: '4', x: 307, y: 558 }, { t: '3', x: 424, y: 558 },
  { t: 'LSAMP', x: 200, y: 369, color: '#5c2a4a' },
  { t: 'CXCL14', x: 201.5, y: 410, color: '#36366e' },
  { t: 'RELN', x: 215, y: 440, color: '#36366e' },
  { t: 'MMP1', x: 387.5, y: 440, color: '#1a9a2a' },
  { t: 'PLEKHN1', x: 404, y: 459, color: '#1a9a2a' },
  { t: 'MSMP', x: 381.5, y: 487, color: '#1a9a2a' },
  { t: '−Log₂ (ratio of mRNA)', x: 310, y: 600.5, size: 9.5 },
  { t: '−Log₂ (ratio of methy)', x: 141, y: 439, size: 9.5, rot: -90 },
  { t: '(c)', x: 311, y: 623, size: 10.5 }
];
function cutLine(pts) {
  return { type: 'line', data: pts, borderColor: '#333', borderWidth: 1.3, borderDash: [4, 3], pointRadius: 0, fill: false };
}
addChart({
  type: 'scatter',
  data: {
    datasets: [
      cutLine([{ x: cutsX[0], y: -0.329 }, { x: cutsX[0], y: 0.327 }]),
      cutLine([{ x: cutsX[1], y: -0.329 }, { x: cutsX[1], y: 0.327 }]),
      cutLine([{ x: -12.1, y: cutsY[0] }, { x: 12.06, y: cutsY[0] }]),
      cutLine([{ x: -12.1, y: cutsY[1] }, { x: 12.06, y: cutsY[1] }]),
      dot(fromPairs(redPts), '#f01010', 2.6),
      dot(fromPairs(greenPts), '#0e8a20', 2.6),
      dot(fromPairs(purplePts), '#4c1a5e', 2.8),
      dot(fromRows(orangeRows), '#e83c0a', 2.9),
      dot(fromPairs(maroonPts), '#2a0a24', 2.6),
      dot(fromRows(navyRows), '#10143f', 3),
      dot(fromRows(blackUpperRows), '#050505', 2.8),
      dot(fromRows(blackLowerRows), '#050505', 2.8)
    ]
  },
  options: {
    layout: { padding: pad(181, 311, 434, 570, 30, 0, 14) },
    scales: {
      x: axis(-12.1, 12.06, nineTicksX, minus, 9, 3, 3, s => { s.height = 14; }),
      y: axis(-0.329, 0.327, nineTicksY, v => v.toFixed(1).replace('-', '−'), 9, 3, 3, s => { s.width = 30; })
    }
  },
  plugins: [notes(nineNotes, true)]
});

// count histogram above, bars rise from the bottom of its box
addChart({
  type: 'bar',
  data: {
    datasets: [{
      data: mrnaCounts.map((y, i) => ({ x: mrnaBinStart + i * mrnaBinWidth, y })),
      base: -11.8,
      backgroundColor: '#050505', barPercentage: 1, categoryPercentage: 1
    }]
  },
  options: {
    layout: { padding: pad(181, 263, 434, 301, 30) },
    scales: {
      x: hidden(-12.1, 12.06),
      y: axis(-11.8, 211.8, mrnaCountTicks, minus, 8, 3, 2, s => { s.width = 30; })
    }
  },
  plugins: [notes([{ t: 'Count', x: 145, y: 281, size: 9, rot: -90 }], true)]
});

// count histogram at the side
addChart({
  type: 'bar',
  data: {
    datasets: [{
      data: methyCounts.map((x, i) => ({ y: methyBinStart - i * methyBinWidth, x })),
      base: -1,
      backgroundColor: '#07092e', barPercentage: 1, categoryPercentage: 1
    }]
  },
  options: {
    indexAxis: 'y',
    layout: { padding: pad(445, 311, 484, 570, 0, 0, 14) },
    scales: {
      x: axis(-1, 150, methyCountTicks, minus, 8, 3, 3, s => { s.height = 14; }),
      y: hidden(-0.329, 0.327)
    }
  },
  plugins: [notes([{ t: 'Count', x: 468, y: 597.5, size: 9 }], true)]
});

// ---- heatmap ----
const heatDatasets = heatRows[0].map((_, col) => ({
  data: genes.map(() => 1),
  backgroundColor: heatRows.map(r => zColor(r[col])),
  borderWidth: 0, barPercentage: 1, categoryPercentage: 1
}));
addChart({
  type: 'bar',
  data: { labels: genes, datasets: heatDatasets },
  options: {
    indexAxis: 'y',
    layout: { padding: pad(255, 709.7, 422, 1112, 0, 75) },
    scales: {
      x: hidden(0, 20, { stacked: true }),
      y: {
        stacked: true, position: 'right',
        afterFit: s => { s.width = 75; },
        grid: { drawOnChartArea: false, tickLength: 10, color: '#333', tickWidth: 1 },
        border: { display: false },
        ticks: { font: { size: 6.7 }, color: INK, padding: 5, autoSkip: false, crossAlign: 'near' }
      }
    }
  },
  plugins: [{
    id: 'clusterGap',
    afterDatasetsDraw(chart) {
      const y = chart.scales.y, a = chart.chartArea, mid = y.getPixelForValue(55.5);
      chart.ctx.fillStyle = '#fff';
      chart.ctx.fillRect(a.left, mid - 0.7, a.width, 1.4);
    }
  }]
});

// sample group strip
addChart({
  type: 'bar',
  data: {
    labels: ['group'],
    datasets: groupSizes.map((v, i) => ({ data: [v], backgroundColor: groupColors[i], barPercentage: 1, categoryPercentage: 1 }))
  },
  options: {
    indexAxis: 'y',
    layout: { padding: pad(255, 697.7, 422, 707.7) },
    scales: { x: hidden(0, 20, { stacked: true }), y: { display: false, stacked: true } }
  }
});

// dendrograms
function treeChart(points, box, xScale, yScale) {
  addChart({
    type: 'scatter',
    data: { datasets: [{ data: points, showLine: true, spanGaps: false, borderColor: '#333', borderWidth: 1, pointRadius: 0 }] },
    options: { layout: { padding: box }, scales: { x: xScale, y: yScale } }
  });
}
treeChart(treeLines(columnTree, true), pad(255, 636.7, 422, 697.7), hidden(-0.5, 19.5), hidden(0, 61));
treeChart(treeLines(rowTree, false), pad(170, 709.7, 255, 1112), hidden(0, 85, { reverse: true }), hidden(-0.5, 67.5, { reverse: true }));

// z score colour bar
addChart({
  type: 'bar',
  data: {
    labels: ['z'],
    datasets: [{
      data: [[-3.52, 4]],
      barPercentage: 1, categoryPercentage: 1,
      backgroundColor(c) {
        const y = c.chart.scales.y;
        const top = y ? y.getPixelForValue(4) : NaN, bottom = y ? y.getPixelForValue(-3.5) : NaN;
        if (!isFinite(top) || !isFinite(bottom)) return '#888888';
        const g = c.chart.ctx.createLinearGradient(0, top, 0, bottom);
        zStops.forEach(([z, col]) => g.addColorStop((4 - z) / 7.5, col));
        return g;
      }
    }]
  },
  options: {
    layout: { padding: pad(153, 701.7, 164, 1125, 0, 30) },
    scales: {
      x: { display: false },
      y: {
        type: 'linear', position: 'right', min: -3.52, max: 4,
        afterBuildTicks: s => { s.ticks = zTicks.map(value => ({ value })); },
        afterFit: s => { s.width = 30; },
        grid: { display: false, drawTicks: false }, border: { display: false },
        ticks: { font: { size: 9.5 }, color: INK, padding: 4, callback: minus }
      }
    }
  },
  plugins: [{
    id: 'notches',
    afterDatasetsDraw(chart) {
      const ctx = chart.ctx, a = chart.chartArea, y = chart.scales.y;
      ctx.fillStyle = '#fff';
      zTicks.filter(z => z !== 0).forEach(z => {
        const p = y.getPixelForValue(z);
        ctx.fillRect(a.left, p - 1.5, 2.5, 3);
        ctx.fillRect(a.right - 2.5, p - 1.5, 2.5, 3);
      });
    }
  }, notes([
    { t: 'Gene Z-', x: 153, y: 679, size: 9.5, align: 'left' },
    { t: 'Score', x: 153, y: 689, size: 9.5, align: 'left' },
    { t: 'Cluster 1', x: 189, y: 870, size: 10, rot: -90 },
    { t: 'Cluster 2', x: 189, y: 1099, size: 10, rot: -90 }
  ])]
});
</script>
</body>
</html>
